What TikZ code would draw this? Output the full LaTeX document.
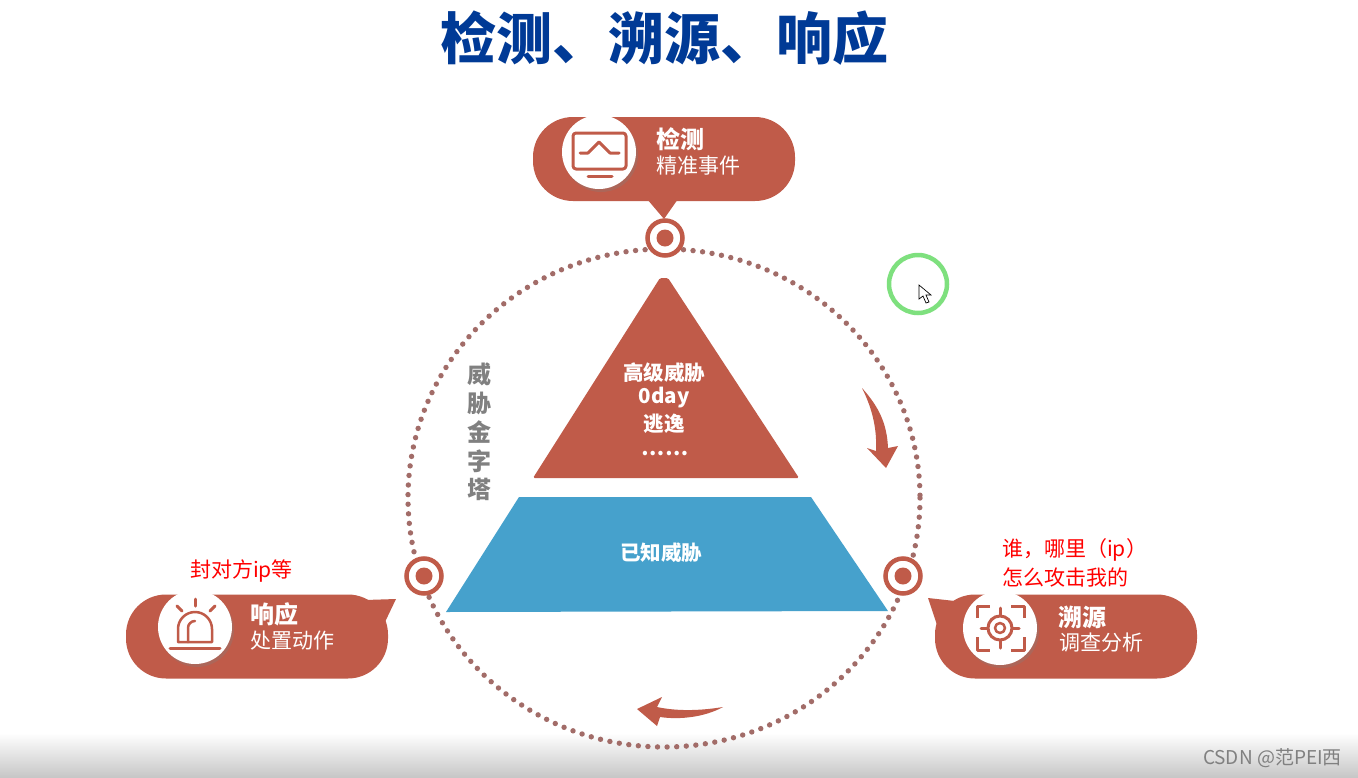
\documentclass[tikz,border=0pt]{standalone}
\usepackage{fontspec}
\setmainfont{Noto Sans CJK SC}
\usetikzlibrary{shadows,calc}
\definecolor{brick}{HTML}{C05B49}
\definecolor{skyblue}{HTML}{46A1CC}
\definecolor{dotcol}{HTML}{A26C68}
\definecolor{titleblue}{HTML}{003A96}
\definecolor{sidegray}{HTML}{808080}
\definecolor{halo}{HTML}{7EE07E}
\newcommand{\fsz}[1]{\fontsize{#1}{#1}\selectfont}
\tikzset{
  pill/.style={fill=brick,rounded corners=40pt,minimum width=262pt,minimum height=84pt,inner sep=0pt,draw=none},
  tail/.style={fill=brick,draw=none},
  iconbg/.style={circle,fill=white,minimum size=74pt,inner sep=0pt,drop shadow={opacity=0.3,shadow xshift=2pt,shadow yshift=-3pt}},
  icon/.style={draw=brick,line width=3pt,line cap=round,line join=round},
  ring/.style={circle,draw=brick,fill=white,line width=4.5pt,minimum size=35pt,inner sep=0pt},
  ringdot/.style={circle,fill=brick,minimum size=17pt,inner sep=0pt},
  head/.style={text=white,font=\fsz{24}\bfseries,anchor=west,inner sep=0pt},
  sub/.style={text=white,font=\fsz{21},anchor=west,inner sep=0pt},
  inner/.style={text=white,font=\fsz{20.5}\bfseries,inner sep=0pt},
  side/.style={text=sidegray,font=\fsz{24}\bfseries,inner sep=0pt},
  note/.style={text=red,font=\fsz{21},anchor=west,inner sep=0pt},
}
\begin{document}
\begin{tikzpicture}[x=1pt,y=-1pt]
\useasboundingbox (0,0) rectangle (1358,777);
\fill[white] (0,0) rectangle (1358,777);
% fading band along the lower edge
\shade[top color=white,bottom color=black!22] (0,733) rectangle (1358,777);

\node[text=titleblue,font=\fsz{56}\bfseries,inner sep=0pt] (title) at (664,38) {检测、溯源、响应};

% dotted cycle
\draw[dotcol,line width=5.4pt,line cap=round,dash pattern=on 0pt off 9.6pt] (664,498) ellipse [x radius=256,y radius=249];

% threat pyramid
\fill[brick,rounded corners=1.5pt] (660,278) -- (668,278) -- (799,478) -- (533,478) -- cycle;
\fill[skyblue] (519,497) -- (811,497) -- (888,611) -- (446,612) -- cycle;
\node[inner] (t1) at (664,373) {高级威胁};
\node[inner] (t2) at (664,398) {0day};
\node[inner] (t3) at (664,424) {逃逸};
\node[inner] (t4) at (665,454) {……};
\node[inner] (known) at (661,553) {已知威胁};
\node[side] (s1) at (479,374) {威};
\node[side] (s2) at (479,403) {胁};
\node[side] (s3) at (479,432) {金};
\node[side] (s4) at (479,461) {字};
\node[side] (s5) at (479,489) {塔};

% direction arrows
\fill[brick] (862,388) .. controls (880,408) and (887,425) .. (888,448) -- (898,446) -- (886,468) -- (867,448) -- (876,451) .. controls (877,430) and (873,410) .. cycle;
\fill[brick] (723,707) .. controls (705,710) and (680,712) .. (657,707) -- (662,697) -- (637,709) -- (657,726) -- (660,717) .. controls (680,720) and (705,717) .. cycle;

% detection callout
\fill[tail] (647,199) -- (664,219) -- (678,199) -- cycle;
\node[pill] (top) at (664,159) {};
\node[iconbg] (topicon) at (599,152) {};
\draw[icon,rounded corners=3pt] (573,133) rectangle (626,169);
\draw[icon] (580,153) -- (588,153) -- (599,142) -- (610,153) -- (619,153);
\draw[icon] (588,176) -- (612,176);
\node[head] (toph) at (656,139) {检测};
\node[sub] (tops) at (656,166) {精准事件};
\node[ring] (ringtop) at (665,238) {};
\node[ringdot] at (ringtop.center) {};

% response callout
\fill[tail] (365,600) -- (396,599) -- (385,622) -- cycle;
\node[pill] (left) at (257,636.5) {};
\node[iconbg] (lefticon) at (195,627) {};
\draw[icon] (170,648) -- (220,648);
\draw[icon,line width=2.5pt] (178,642) -- (178,629) arc [start angle=180,end angle=360,radius=17] -- (212,642) -- cycle;
\draw[icon,line width=2.5pt] (188,642) -- (188,628) arc [start angle=180,end angle=270,radius=7];
\draw[icon] (195,599) -- (195,606);
\draw[icon] (177,606) -- (182,611);
\draw[icon] (215,606) -- (210,611);
\node[head] (lefth) at (250,614) {响应};
\node[sub] (lefts) at (250,641) {处置动作};
\node[ring] (ringleft) at (424,576) {};
\node[ringdot] at (ringleft.center) {};

% tracing callout
\fill[tail] (928,598) -- (955,601) -- (938,628) -- cycle;
\node[pill] (right) at (1066,636.5) {};
\node[iconbg] (righticon) at (1000,628) {};
\draw[icon,line cap=butt] (977,618) -- (977,606) -- (990,606);
\draw[icon,line cap=butt] (1024,618) -- (1024,606) -- (1011,606);
\draw[icon,line cap=butt] (977,637) -- (977,650) -- (990,650);
\draw[icon,line cap=butt] (1024,637) -- (1024,650) -- (1011,650);
\draw[icon] (1000,628) circle [radius=12];
\draw[icon,line width=2.5pt] (1000,628) circle [radius=5];
\draw[icon] (1000,608) -- (1000,615);
\draw[icon] (1000,641) -- (1000,648);
\draw[icon] (981,628) -- (987,628);
\draw[icon] (1013,628) -- (1019,628);
\node[head] (righth) at (1058,617) {溯源};
\node[sub] (rights) at (1059,643) {调查分析};
\node[ring] (ringright) at (903,576) {};
\node[ringdot] at (ringright.center) {};

% handwritten notes
\node[note] (n1) at (190,571) {封对方ip等};
\node[note] (n2) at (1002,550) {谁，哪里（ip）};
\node[note] (n3) at (1002,577) {怎么攻击我的};

% pointer highlight
\node[circle,draw=halo,line width=4.5pt,minimum size=58pt,inner sep=0pt] (halo) at (918,284) {};
\draw[black,fill=white,line width=0.7pt,line join=miter] (919,285) -- (919,299) -- (923,296) -- (926,303) -- (929,302) -- (926,295) -- (931,295) -- cycle;

\node[text=black!50,font=\fsz{19},anchor=east,inner sep=0pt] (mark) at (1342,758) {CSDN @范PEI西};
\end{tikzpicture}
\end{document}
